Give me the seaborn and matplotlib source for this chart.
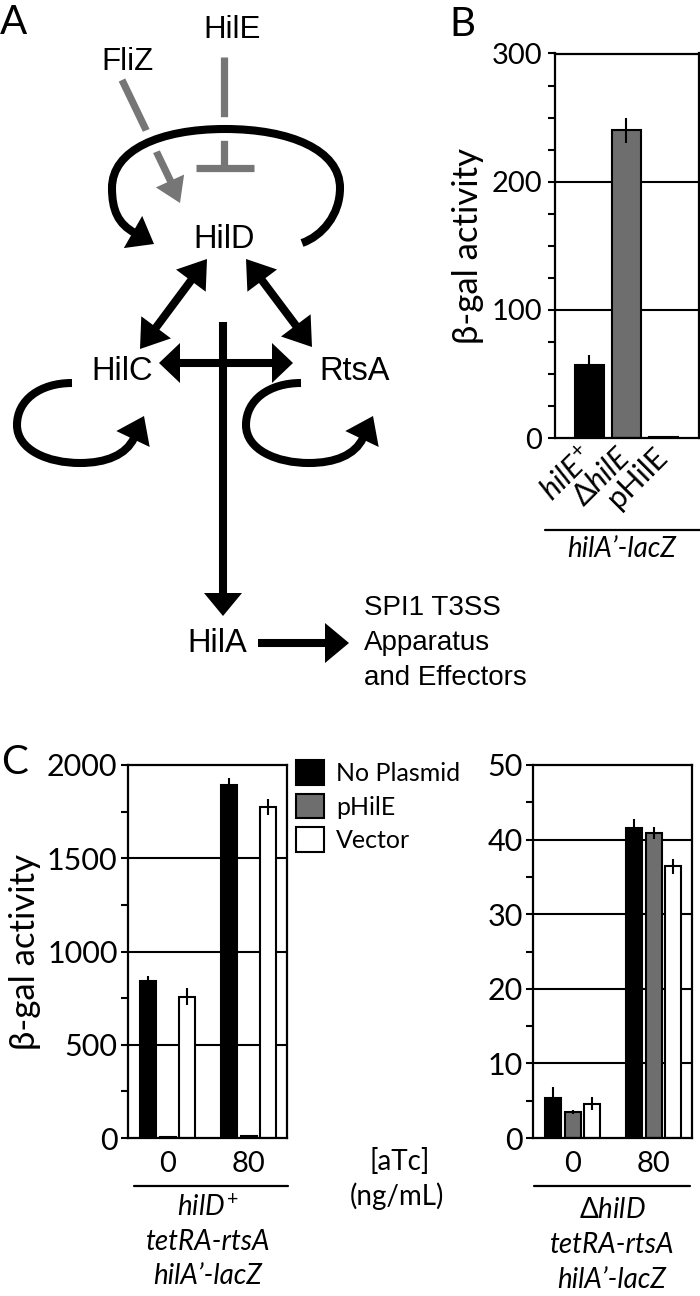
import numpy as np
import pandas as pd
import matplotlib
matplotlib.use("Agg")
import matplotlib.pyplot as plt
import seaborn as sns
from matplotlib.patches import Polygon, PathPatch, Patch
from matplotlib.path import Path
import matplotlib.patheffects as pe
from matplotlib.ticker import MultipleLocator

# ---------------- data ----------------
b_strains = ["hilE+", "dhilE", "pHilE"]
b_ticklabels = [r"$\mathit{hilE}^{+}$", r"$\Delta\mathit{hilE}$", "pHilE"]
b_values = [57, 240, 1]
b_errors = [8, 10, 0]
b_colors = ["#000000", "#6e6e6e", "#ffffff"]

c_atc = ["0", "80"]
c_plasmids = ["No Plasmid", "pHilE", "Vector"]
c_colors = ["#000000", "#6e6e6e", "#ffffff"]

cL_noplasmid = [842, 1895]
cL_philE = [8, 12]
cL_vector = [758, 1775]
cL_noplasmid_err = [25, 35]
cL_philE_err = [0, 0]
cL_vector_err = [45, 45]

cR_noplasmid = [5.4, 41.5]
cR_philE = [3.5, 40.9]
cR_vector = [4.6, 36.4]
cR_noplasmid_err = [1.5, 1.3]
cR_philE_err = [0.25, 0.8]
cR_vector_err = [0.9, 1.0]

# ---------------- style ----------------
sns.set_style("white")
plt.rcParams["font.family"] = ["Lato", "DejaVu Sans"]
plt.rcParams["text.color"] = "black"
plt.rcParams["axes.labelcolor"] = "black"
plt.rcParams["xtick.color"] = "black"
plt.rcParams["ytick.color"] = "black"
plt.rcParams["mathtext.fontset"] = "custom"
plt.rcParams["mathtext.rm"] = "Lato"
plt.rcParams["mathtext.it"] = "Lato:italic"
plt.rcParams["mathtext.bf"] = "Lato:bold"
plt.rcParams["mathtext.fallback"] = "stixsans"

W, H = 700, 1296
fig = plt.figure(figsize=(W / 100, H / 100), dpi=100)


def ax_rect(x0, y0, x1, y1):
    return [x0 / W, 1 - y1 / H, (x1 - x0) / W, (y1 - y0) / H]


def style_axes(ax, ymax, major, minor, tick_fs, pad):
    ax.set_ylim(0, ymax)
    ax.yaxis.set_major_locator(MultipleLocator(major))
    ax.yaxis.set_minor_locator(MultipleLocator(minor))
    ax.grid(False)
    ax.set_axisbelow(True)
    for v in np.arange(major, ymax, major):
        ax.axhline(v, color="black", lw=1.5, zorder=0.5)
    for s in ax.spines.values():
        s.set_visible(True)
        s.set_color("black")
        s.set_linewidth(1.6)
    ax.tick_params(axis="y", which="both", direction="out", left=True,
                   length=5, width=1.5, color="black", labelcolor="black",
                   labelsize=tick_fs, pad=pad)
    ax.tick_params(axis="x", length=0, labelcolor="black")
    ax.set_xlabel("")


# ---------------- panel B ----------------
axB = fig.add_axes(ax_rect(555, 53.5, 699, 438))
sns.barplot(x=b_strains, y=b_values, hue=b_strains, palette=b_colors,
            legend=False, width=0.78, edgecolor="black", linewidth=1.5,
            saturation=1, ax=axB, zorder=2)
axB.errorbar(range(len(b_strains)), b_values, yerr=b_errors, fmt="none",
             ecolor="black", elinewidth=1.5, capsize=0, zorder=3)
style_axes(axB, 300, 100, 25, 21, 4)
axB.set_xlim(-0.93, 2.96)
axB.set_xticks(range(3))
axB.set_xticklabels(b_ticklabels, rotation=45, ha="right", va="center",
                    rotation_mode="anchor", fontsize=22)
axB.tick_params(axis="x", pad=10)
axB.set_ylabel("β-gal activity", fontsize=25, va="center", color="black")
axB.yaxis.set_label_coords((468 - 555) / 144, 0.5)


# ---------------- panel C ----------------
def c_panel(rect, noplasmid, philE, vector, errs, ymax, major, minor, label):
    ax = fig.add_axes(rect)
    df = pd.DataFrame({
        "aTc": c_atc * 3,
        "plasmid": np.repeat(c_plasmids, len(c_atc)),
        "value": list(noplasmid) + list(philE) + list(vector),
    })
    sns.barplot(data=df, x="aTc", y="value", hue="plasmid", order=c_atc,
                hue_order=c_plasmids, palette=c_colors, width=0.72, gap=0.17,
                edgecolor="black", linewidth=1.5, saturation=1, errorbar=None,
                legend=False, ax=ax, zorder=2)
    for p in ax.patches:
        xc = p.get_x() + p.get_width() / 2
        cat = int(round(xc))
        hi = int(round((xc - cat) / 0.24)) + 1
        ax.errorbar(xc, p.get_height(), yerr=errs[hi][cat], fmt="none",
                    ecolor="black", elinewidth=1.5, capsize=0, zorder=3)
    style_axes(ax, ymax, major, minor, 22, 2.5)
    ax.set_xlim(-0.49, 1.47)
    ax.tick_params(axis="x", labelsize=21, pad=9)
    if label:
        ax.set_ylabel("β-gal activity", fontsize=25, va="center", color="black")
        ax.yaxis.set_label_coords((25 - 128) / 159, 0.5)
    else:
        ax.set_ylabel("")
    return ax


axCL = c_panel(ax_rect(128, 765, 287, 1138), cL_noplasmid, cL_philE, cL_vector,
               [cL_noplasmid_err, cL_philE_err, cL_vector_err], 2000, 500, 250, True)
axCR = c_panel(ax_rect(533, 765, 692, 1138), cR_noplasmid, cR_philE, cR_vector,
               [cR_noplasmid_err, cR_philE_err, cR_vector_err], 50, 10, 5, False)

handles = [Patch(facecolor=c, edgecolor="black", linewidth=1.5) for c in c_colors]
fig.legend(handles, c_plasmids, loc="upper left",
           bbox_to_anchor=(296 / W, 1 - 760 / H), frameon=False, fontsize=18,
           handlelength=1.1, handleheight=1.15, handletextpad=0.5,
           labelspacing=0.35, borderpad=0, borderaxespad=0, labelcolor="black")

# ---------------- overlay (diagram + annotations) ----------------
ov = fig.add_axes([0, 0, 1, 1], zorder=-1)
ov.set_xlim(0, W)
ov.set_ylim(H, 0)
ov.axis("off")
ov.patch.set_alpha(0)

LW = 5.8       # ~8 px black lines
GREY = "#767676"
DFONT = ["Liberation Sans", "DejaVu Sans"]


def head(tip, base, width, color="black", z=6):
    tip = np.asarray(tip, float)
    base = np.asarray(base, float)
    d = tip - base
    n = np.array([-d[1], d[0]]) / np.hypot(*d) * width / 2
    ov.add_patch(Polygon([tip, base + n, base - n], closed=True,
                         facecolor=color, edgecolor="none", zorder=z))


def arrow(a, b, L, Wd, lw=LW, color="black", start=False, end=True, z=5):
    a = np.asarray(a, float)
    b = np.asarray(b, float)
    u = (b - a) / np.hypot(*(b - a))
    p0, p1 = a.copy(), b.copy()
    if start:
        head(a, a + u * L, Wd, color)
        p0 = a + u * (L - 2)
    if end:
        head(b, b - u * L, Wd, color)
        p1 = b - u * (L - 2)
    ov.plot([p0[0], p1[0]], [p0[1], p1[1]], color=color, lw=lw,
            solid_capstyle="butt", zorder=z)


def curve(points, lw=LW, color="black", white=False, z=5):
    codes = [Path.MOVETO] + [Path.CURVE4] * (len(points) - 1)
    pp = PathPatch(Path(points, codes), fill=False, edgecolor=color, lw=lw,
                   capstyle="butt", zorder=z)
    if white:
        pp.set_path_effects([pe.Stroke(linewidth=17, foreground="white"),
                             pe.Normal()])
    ov.add_patch(pp)


# panel letters
ov.text(0, 4, "A", fontsize=29, va="top", ha="left")
ov.text(449, 6, "B", fontsize=29, va="top", ha="left")
ov.text(1, 744, "C", fontsize=29, va="top", ha="left")

# grey regulators
ov.text(232, 30, "HilE", fontsize=22.5, ha="center", va="center", family=DFONT)
ov.text(127, 62, "FliZ", fontsize=22.5, ha="center", va="center", family=DFONT)
ov.plot([224, 224], [57, 168], color=GREY, lw=5.2, solid_capstyle="butt", zorder=3)
ov.plot([196, 254], [168, 168], color=GREY, lw=5.2, solid_capstyle="butt", zorder=3)
ov.plot([122, 171], [80, 182], color=GREY, lw=5.2, solid_capstyle="butt", zorder=3)
head((180, 203), (170, 181), 31, color=GREY)

# HilD autoregulation arc
curve([(302, 243), (322, 236), (340, 215), (340, 188),
       (340, 150), (290, 129), (225, 129),
       (160, 129), (112, 150), (112, 188),
       (112, 210), (118, 224), (135, 233)], white=True)
head((154, 244), (133, 232), 37)

# main labels
ov.text(224, 239, "HilD", fontsize=23.5, ha="center", va="center", family=DFONT)
ov.text(122, 372, "HilC", fontsize=23.5, ha="center", va="center", family=DFONT)
ov.text(355, 372, "RtsA", fontsize=23.5, ha="center", va="center", family=DFONT)
ov.text(217, 643, "HilA", fontsize=23.5, ha="center", va="center", family=DFONT)
for i, t in enumerate(["SPI1 T3SS", "Apparatus", "and Effectors"]):
    ov.text(364, 608 + 35 * i, t, fontsize=20, ha="left", va="center", family=DFONT)

# double arrows
arrow((207, 259), (140, 349), 27, 37, start=True)
arrow((246, 259), (312, 347), 27, 37, start=True)
arrow((159, 363), (293, 363), 21, 40, start=True)
# vertical line to HilA
arrow((223, 322), (223, 616), 23, 38)
# HilA -> SPI1
arrow((258, 643), (349, 643), 24, 40)

# self loops for HilC and RtsA
for dx in (0, 229):
    curve([(72 + dx, 383), (40 + dx, 383), (17 + dx, 400), (17 + dx, 425),
           (17 + dx, 450), (48 + dx, 463), (80 + dx, 463),
           (106 + dx, 463), (126 + dx, 455), (134 + dx, 438)])
    head((144 + dx, 416), (133 + dx, 439), 37)

# annotations under panel B
ov.plot([545, 700], [530, 530], color="black", lw=1.6)
ov.text(622, 549, "hilA’-lacZ", fontsize=20, style="italic", ha="center", va="center")

# annotations under panel C
ov.plot([134, 288], [1186, 1186], color="black", lw=1.6)
ov.plot([534, 690], [1186, 1186], color="black", lw=1.6)
ov.text(208, 1208, r"$\mathit{hilD}^{+}$", fontsize=20, ha="center", va="center")
ov.text(208, 1242, "tetRA-rtsA", fontsize=20, style="italic", ha="center", va="center")
ov.text(208, 1276, "hilA’-lacZ", fontsize=20, style="italic", ha="center", va="center")
ov.text(612, 1210, r"$\Delta\mathit{hilD}$", fontsize=20, ha="center", va="center")
ov.text(612, 1245, "tetRA-rtsA", fontsize=20, style="italic", ha="center", va="center")
ov.text(612, 1280, "hilA’-lacZ", fontsize=20, style="italic", ha="center", va="center")
ov.text(400, 1161, "[aTc]", fontsize=20, ha="center", va="center")
ov.text(397, 1196, "(ng/mL)", fontsize=20, ha="center", va="center")

fig.savefig("out.png", dpi=100)
